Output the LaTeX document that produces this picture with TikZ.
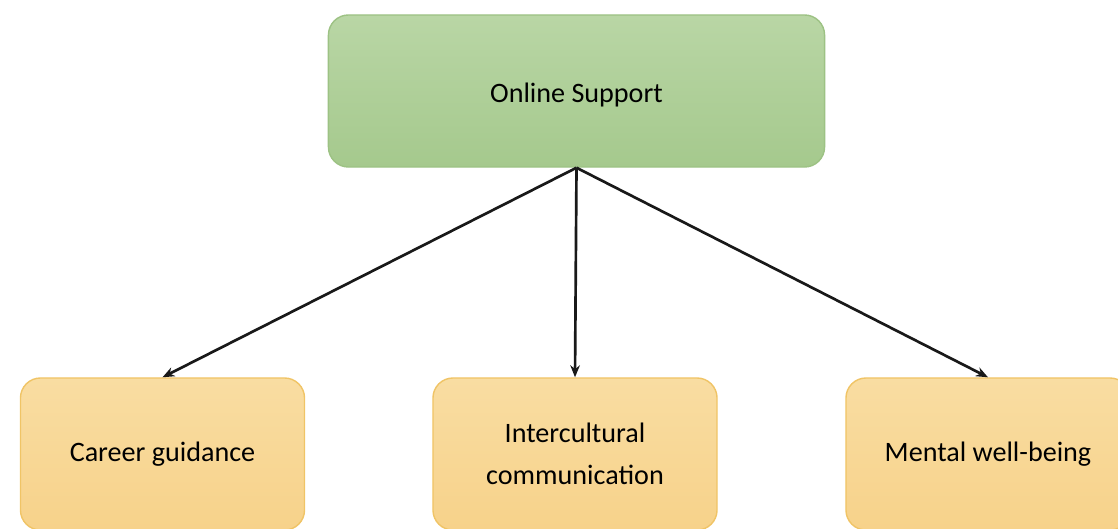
\documentclass[tikz,border=0pt]{standalone}
\usepackage{fontspec}
\setmainfont{Carlito}
\usetikzlibrary{arrows.meta,positioning}
\definecolor{leafline}{HTML}{9DC284}
\definecolor{leaftop}{HTML}{B9D6A5}
\definecolor{leafbot}{HTML}{A5C98D}
\definecolor{sandline}{HTML}{F0C466}
\definecolor{sandtop}{HTML}{F9DDA2}
\definecolor{sandbot}{HTML}{F7D28A}

\begin{document}
\begin{tikzpicture}[
  x=0.025cm,y=-0.025cm,
  font=\fontsize{20}{30}\selectfont,
  link/.style={-{Stealth[length=3mm,width=2.4mm]},line width=1.9pt,draw=black!90},
  box/.style={draw,line width=1pt,rounded corners=0.5cm,
    minimum height=3.8cm,align=center,inner sep=4pt},
  hub/.style={box,draw=leafline,top color=leaftop,bottom color=leafbot,
    minimum width=12.4cm,text height=22pt,text depth=5pt},
  topic/.style={box,draw=sandline,top color=sandtop,bottom color=sandbot,
    minimum width=7.1cm}
]
\useasboundingbox (0,0) rectangle (1118,528);
\clip (0,0) rectangle (1118,528);
\node[hub] (online) at (576.5,91) {Online Support};
\node[topic] (career) at (162.5,454) {Career guidance};
\node[topic] (culture) at (575,454) {Intercultural\\communication};
\node[topic] (mental) at (988,454) {Mental well-being};

\draw[link] (online.south) -- (career.north);
\draw[link] (online.south) -- (culture.north);
\draw[link] (online.south) -- (mental.north);
\end{tikzpicture}
\end{document}
